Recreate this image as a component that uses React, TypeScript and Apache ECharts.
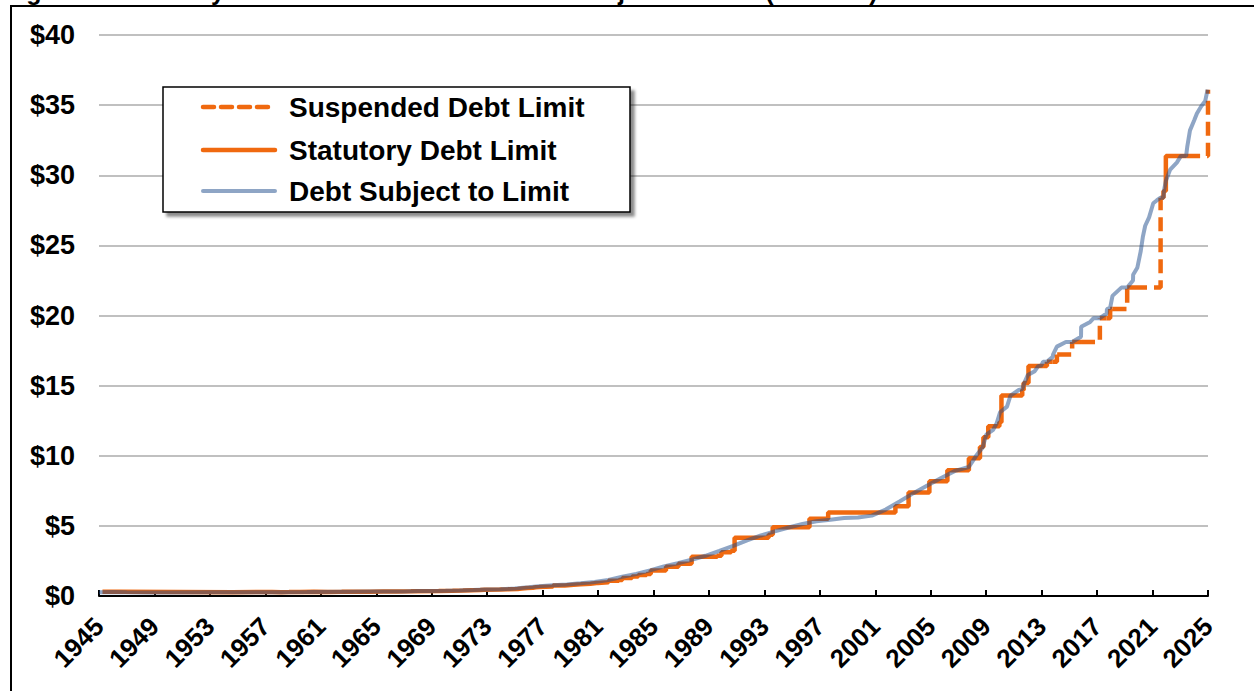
import React, { useEffect, useRef } from "react";
import * as echarts from "echarts";

// ---- Data (trillions of dollars, decimal years) ----
const xMin = 1945;
const xMax = 2025;
const yearTickInterval = 4;
const yTicks = [0, 5, 10, 15, 20, 25, 30, 35, 40];

// Statutory debt limit change dates and new limit values
const limitDates = [
  1945.25, 1946.5, 1954.65, 1956.5, 1957.5, 1958.15, 1958.7, 1959.5, 1960.5, 1961.5,
  1962.5, 1963.5, 1964.5, 1965.5, 1966.5, 1967.5, 1969.5, 1970.5, 1971.25, 1972.5,
  1972.8, 1973.9, 1974.5, 1975.2, 1975.5, 1975.9, 1976.3, 1976.5, 1976.75, 1977.75,
  1978.6, 1979.25, 1979.75, 1980.45, 1980.9, 1981.0, 1981.75, 1982.5, 1982.75, 1983.45,
  1983.9, 1984.5, 1984.8, 1985.9, 1986.8, 1987.6, 1987.75, 1989.6, 1989.9, 1990.6,
  1990.85, 1993.3, 1993.6, 1996.25, 1997.6, 2002.45, 2003.4, 2004.9, 2006.2, 2007.75,
  2008.55, 2008.8, 2009.15, 2009.95, 2010.1, 2011.6, 2011.7, 2012.05, 2013.38, 2014.1,
  2015.2, 2017.2, 2017.94, 2019.17, 2021.58, 2021.79, 2021.96, 2025.0,
];
const limitValues = [
  0.3, 0.275, 0.281, 0.278, 0.275, 0.28, 0.288, 0.295, 0.293, 0.298,
  0.308, 0.309, 0.324, 0.328, 0.33, 0.358, 0.377, 0.395, 0.43, 0.45,
  0.465, 0.475, 0.495, 0.531, 0.577, 0.595, 0.627, 0.636, 0.682, 0.752,
  0.798, 0.83, 0.879, 0.925, 0.935, 0.985, 1.0798, 1.1431, 1.2902, 1.389,
  1.49, 1.573, 1.8238, 2.0787, 2.3, 2.32, 2.8, 2.87, 3.1227, 3.23,
  4.145, 4.37, 4.9, 5.5, 5.95, 6.4, 7.384, 8.184, 8.965, 9.815,
  10.615, 11.315, 12.104, 12.394, 14.294, 14.694, 15.194, 16.394, 16.699, 17.212,
  18.113, 19.809, 20.456, 21.988, 28.401, 28.881, 31.381, 36.104,
];

// Debt-limit suspension periods
const suspensionStarts = [2013.1, 2013.8, 2014.12, 2015.84, 2017.69, 2018.11, 2019.59, 2023.42];
const suspensionEnds = [2013.38, 2014.1, 2015.2, 2017.2, 2017.94, 2019.17, 2021.58, 2025.0];

// Debt subject to limit
const debtDates = [
  1945.0, 1946.0, 1947.0, 1948.5, 1950.0, 1953.0, 1955.0, 1958.0, 1960.0, 1963.0,
  1965.0, 1967.0, 1968.0, 1969.0, 1970.0, 1971.0, 1972.0, 1973.0, 1974.0, 1975.0,
  1976.0, 1976.75, 1977.75, 1978.75, 1979.75, 1980.75, 1981.75, 1982.75, 1983.75, 1984.75,
  1985.75, 1986.75, 1987.75, 1988.75, 1989.75, 1990.75, 1991.75, 1992.75, 1993.75, 1994.75,
  1995.75, 1996.75, 1997.75, 1998.75, 1999.75, 2000.75, 2001.75, 2002.75, 2003.75, 2004.75,
  2005.75, 2006.75, 2007.75, 2008.25, 2008.75, 2009.0, 2009.5, 2009.75, 2010.0, 2010.5,
  2010.75, 2011.35, 2011.6, 2011.75, 2012.0, 2012.5, 2012.75, 2012.98, 2013.1, 2013.38,
  2013.8, 2013.82, 2014.1, 2014.75, 2015.2, 2015.84, 2015.85, 2016.5, 2016.75, 2017.2,
  2017.69, 2017.71, 2017.94, 2018.11, 2018.75, 2019.17, 2019.59, 2019.6, 2019.9, 2020.15,
  2020.3, 2020.47, 2020.75, 2021.05, 2021.3, 2021.58, 2021.79, 2021.82, 2021.96, 2022.27,
  2022.75, 2023.05, 2023.42, 2023.5, 2023.7, 2024.0, 2024.2, 2024.5, 2024.8, 2024.97,
];
const debtValues = [
  0.26, 0.28, 0.26, 0.252, 0.257, 0.266, 0.274, 0.276, 0.287, 0.306,
  0.317, 0.327, 0.348, 0.356, 0.373, 0.399, 0.428, 0.459, 0.476, 0.534,
  0.621, 0.7, 0.772, 0.827, 0.907, 0.998, 1.142, 1.377, 1.572, 1.823,
  2.111, 2.336, 2.586, 2.868, 3.21, 3.569, 3.973, 4.316, 4.605, 4.885,
  5.137, 5.33, 5.439, 5.568, 5.592, 5.732, 6.161, 6.738, 7.333, 7.871,
  8.42, 8.921, 9.2, 9.96, 10.6, 11.5, 11.85, 12.3, 13.1, 13.5,
  14.29, 14.69, 14.75, 15.2, 15.75, 16.03, 16.39, 16.43, 16.7, 16.7,
  17.05, 17.21, 17.78, 18.11, 18.11, 18.49, 19.2, 19.54, 19.81, 19.81,
  20.16, 20.46, 20.55, 21.4, 21.99, 21.99, 22.5, 22.9, 23.4, 24.6,
  25.6, 26.4, 27.0, 28.0, 28.2, 28.4, 28.4, 28.88, 29.6, 30.4,
  30.9, 31.38, 31.38, 32.0, 33.2, 33.9, 34.4, 34.9, 35.3, 36.1,
];

const seriesNames = ["Suspended Debt Limit", "Statutory Debt Limit", "Debt Subject to Limit"];
const titleText = "Figure 1. Statutory Debt Limit and Federal Debt Subject to Limit (Trillions)";

const ORANGE = "#F0690F";
// semi-transparent dark blue: reads as blue-gray on white, brownish over the orange line
const BLUE = "rgba(29,75,139,0.5)";
const FONT = "'Liberation Sans', Arial, sans-serif";

function buildSolid(): any[] {
  const pts: any[] = [];
  for (let i = 0; i < limitDates.length; i++) {
    const d = limitDates[i];
    const v = limitValues[i];
    if (d >= xMax) continue;
    const next = i < limitDates.length - 1 ? limitDates[i + 1] : xMax;
    const k = suspensionEnds.indexOf(next);
    if (k >= 0) {
      pts.push([d, v], [suspensionStarts[k], v], [suspensionStarts[k], "-"]);
    } else {
      pts.push([d, v], [next, v]);
    }
  }
  return pts;
}

function limitAt(t: number): number {
  let v = limitValues[0];
  for (let i = 0; i < limitDates.length; i++) {
    if (limitDates[i] <= t) v = limitValues[i];
  }
  return v;
}

function buildDashed(): any[] {
  const pts: any[] = [];
  for (let k = 0; k < suspensionStarts.length; k++) {
    const s = suspensionStarts[k];
    const e = suspensionEnds[k];
    const before = limitAt(s);
    const after = limitValues[limitDates.indexOf(e)];
    pts.push([s, before], [e, before], [e, after], [e, "-"]);
  }
  return pts;
}

export default function App() {
  const ref = useRef<HTMLDivElement>(null);
  useEffect(() => {
    if (!ref.current) return;
    const chart = echarts.init(ref.current, undefined, { renderer: "svg" });
    const debt = debtDates.map((d, i) => [d, debtValues[i]]);
    const legendY = [107, 150, 191];
    const legendGraphics: any[] = [
      {
        type: "rect",
        shape: { x: 163, y: 87, width: 467, height: 125 },
        style: {
          fill: "#fff",
          stroke: "#000",
          lineWidth: 1.5,
          shadowBlur: 3,
          shadowOffsetX: 4,
          shadowOffsetY: 4,
          shadowColor: "rgba(0,0,0,0.45)",
        },
        z: 10,
      },
      {
        type: "line",
        shape: { x1: 203, y1: legendY[0], x2: 275, y2: legendY[0] },
        style: { stroke: ORANGE, lineWidth: 4.5, lineDash: [11, 7], lineCap: "round" },
        z: 11,
      },
      {
        type: "line",
        shape: { x1: 203, y1: legendY[1], x2: 275, y2: legendY[1] },
        style: { stroke: ORANGE, lineWidth: 4.5, lineCap: "round" },
        z: 11,
      },
      {
        type: "line",
        shape: { x1: 203, y1: legendY[2], x2: 275, y2: legendY[2] },
        style: { stroke: BLUE, lineWidth: 4, lineCap: "round" },
        z: 11,
      },
      ...seriesNames.map((n, i) => ({
        type: "text",
        x: 289,
        y: legendY[i],
        style: {
          text: n,
          fill: "#000",
          font: `bold 28px ${FONT}`,
          verticalAlign: "middle",
          align: "left",
        },
        z: 11,
      })),
    ];
    chart.setOption({
      animation: false,
      backgroundColor: "#fff",
      grid: { left: 99, right: 46, top: 35, bottom: 95, containLabel: false },
      xAxis: {
        type: "value",
        min: xMin,
        max: xMax,
        interval: yearTickInterval,
        axisLine: { show: true, onZero: false, lineStyle: { color: "#000", width: 2 } },
        axisTick: { show: true, inside: true, length: 6, lineStyle: { color: "#000", width: 2 } },
        splitLine: { show: false },
        axisLabel: {
          rotate: 45,
          margin: 26,
          color: "#000",
          fontWeight: "bold",
          fontSize: 26,
          fontFamily: FONT,
          formatter: (v: number) => String(v),
        },
      },
      yAxis: {
        type: "value",
        min: yTicks[0],
        max: yTicks[yTicks.length - 1],
        interval: 5,
        axisLine: { show: false },
        axisTick: { show: false },
        splitLine: { show: true, lineStyle: { color: "#C0C0C0", width: 2 } },
        axisLabel: {
          margin: 24,
          color: "#000",
          fontWeight: "bold",
          fontSize: 27,
          fontFamily: FONT,
          formatter: (v: number) => "$" + v,
        },
      },
      graphic: [
        {
          type: "rect",
          shape: { x: 11, y: 6, width: 1400, height: 900 },
          style: { fill: "none", stroke: "#000", lineWidth: 2 },
          silent: true,
        },
        {
          type: "text",
          x: 4,
          y: 3,
          style: {
            text: titleText,
            fill: "#000",
            font: `bold 25px ${FONT}`,
            verticalAlign: "bottom",
            align: "left",
          },
        },
        ...legendGraphics,
      ],
      series: [
        {
          name: seriesNames[0],
          type: "line",
          data: buildDashed(),
          showSymbol: false,
          connectNulls: false,
          lineStyle: { color: ORANGE, width: 4.5, type: [14, 7] },
          z: 2,
        },
        {
          name: seriesNames[1],
          type: "line",
          data: buildSolid(),
          showSymbol: false,
          connectNulls: false,
          lineStyle: { color: ORANGE, width: 4.5 },
          z: 2,
        },
        {
          name: seriesNames[2],
          type: "line",
          data: debt,
          showSymbol: false,
          lineStyle: { color: BLUE, width: 4 },
          z: 3,
        },
      ],
    });
    return () => chart.dispose();
  }, []);
  return (
    <div
      ref={ref}
      style={{ position: "fixed", left: 0, top: 0, width: 1254, height: 691, background: "#fff" }}
    />
  );
}
